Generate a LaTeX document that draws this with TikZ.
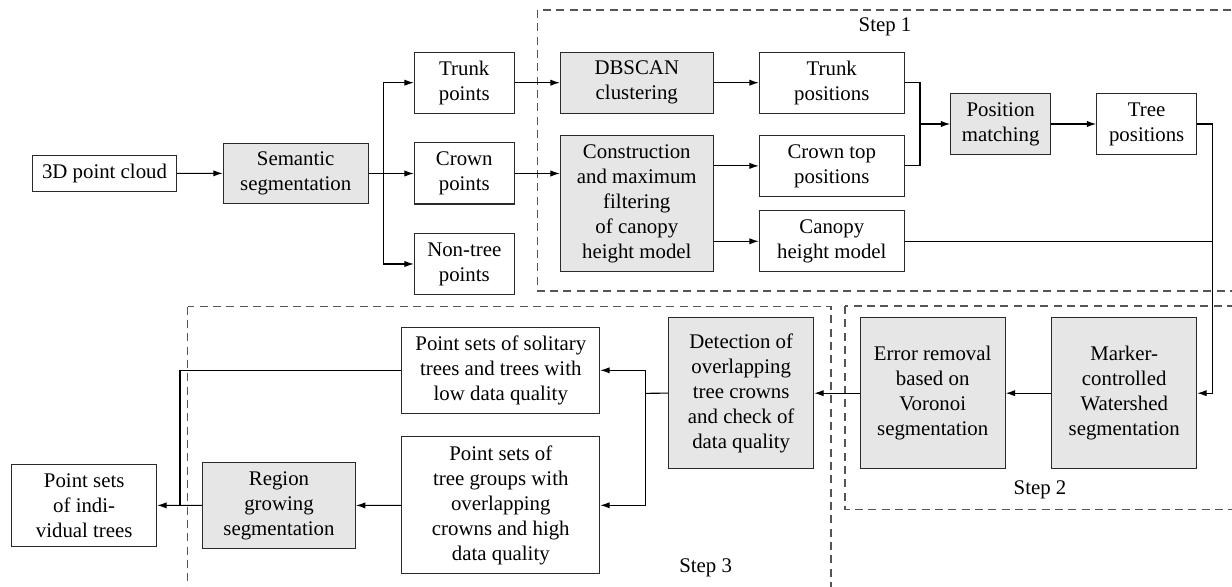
\documentclass[tikz,border=0pt]{standalone}
\usepackage{fontspec}
\setmainfont{Liberation Serif}
\usepackage{tikz}
\usetikzlibrary{arrows.meta}
\definecolor{boxfill}{HTML}{E6E6E6}
\definecolor{boxline}{HTML}{2A2A2A}
\definecolor{dashline}{HTML}{555555}
\tikzset{
  stepbox/.style={draw=boxline, line width=0.5pt, align=center, inner sep=0pt},
  procbox/.style={stepbox, fill=boxfill},
  conn/.style={line width=0.5pt, -{Latex[length=4.5pt,width=3pt]}},
  stage/.style={draw=dashline, line width=0.5pt, dash pattern=on 3.8pt off 2.6pt},
}

\begin{document}
\begin{tikzpicture}[x=0.48pt, y=-0.48pt]
\useasboundingbox (0,0) rectangle (1232,587);
% stages
\draw[stage] (537.7,10) rectangle (1250,291);
\draw[stage] (845,306) rectangle (1250,509.3);
\draw[stage] (187.7,306.7) rectangle (831,600);
\node (lbl1) at (885,26.7) {Step 1};
\node (lbl2) at (1040,490) {Step 2};
\node (lbl3) at (705.7,568.3) {Step 3};

% first row
\node[stepbox, minimum width=69.1pt, minimum height=17.3pt] (cloud) at (104.5,173.2) {3D point cloud};
\node[procbox, minimum width=69.6pt, minimum height=29pt] (sem) at (295.7,173.5) {Semantic\\segmentation};
\node[stepbox, minimum width=48pt, minimum height=29.3pt] (trunkpts) at (464.3,82.7) {Trunk\\points};
\node[stepbox, minimum width=48pt, minimum height=29.3pt] (crownpts) at (464.3,173.5) {Crown\\points};
\node[stepbox, minimum width=48pt, minimum height=29.3pt] (nontree) at (464.3,264) {Non-tree\\points};
\node[procbox, minimum width=73.4pt, minimum height=29.3pt] (dbscan) at (636.8,82.7) {DBSCAN\\clustering};
\node[procbox, minimum width=73.4pt, minimum height=65.3pt] (chm) at (636.8,203.7) {Construction\\and maximum\\filtering\\of canopy\\height model};
\node[stepbox, minimum width=69.6pt, minimum height=29.3pt] (trunkpos) at (831.8,82.7) {Trunk\\positions};
\node[stepbox, minimum width=69.6pt, minimum height=29.3pt] (crowntop) at (831.8,165.9) {Crown top\\positions};
\node[stepbox, minimum width=69.6pt, minimum height=29.3pt] (canopy) at (831.8,241.3) {Canopy\\height model};
\node[procbox, minimum width=48pt, minimum height=29.3pt] (posmatch) at (1000.7,124) {Position\\matching};
\node[stepbox, minimum width=48pt, minimum height=29pt] (treepos) at (1146.7,124) {Tree\\positions};

% second row
\node[procbox, minimum width=69.6pt, minimum height=72.5pt] (marker) at (1124.2,393.2) {Marker-\\controlled\\Watershed\\segmentation};
\node[procbox, minimum width=69.6pt, minimum height=72.5pt] (errrem) at (932.7,393.2) {Error removal\\based on\\Voronoi\\segmentation};
\node[procbox, minimum width=69.6pt, minimum height=72.5pt] (detect) at (741.2,393.2) {Detection of\\overlapping\\tree crowns\\and check of\\data quality};
\node[stepbox, minimum width=95pt, minimum height=41.3pt] (solitary) at (500.8,370.3) {Point sets of solitary\\trees and trees with\\low data quality};
\node[stepbox, minimum width=95pt, minimum height=65.6pt] (groups) at (500.8,505.3) {Point sets of\\tree groups with\\overlapping\\crowns and high\\data quality};
\node[procbox, minimum width=73.4pt, minimum height=41.3pt] (region) at (279,505.5) {Region\\growing\\segmentation};
\node[stepbox, minimum width=69.6pt, minimum height=39.4pt] (indiv) at (84.2,505.3) {Point sets\\of indi-\\vidual trees};

% junctions
\coordinate (semfork) at (383.3,173.5);
\coordinate (posjoin) at (920,124);
\coordinate (rside) at (1212.3,124);
\coordinate (detfork) at (645.7,393.3);
\coordinate (outjoin) at (180,505.3);

% connectors
\draw[conn] (cloud) -- (sem);
\draw[conn] (sem) -- (crownpts);
\draw[conn] (semfork) |- (trunkpts);
\draw[conn] (semfork) |- (nontree);
\draw[conn] (trunkpts) -- (dbscan);
\draw[conn] (crownpts.east) -- (crownpts.east -| chm.west);
\draw[conn] (dbscan) -- (trunkpos);
\draw[conn] (chm.east |- crowntop) -- (crowntop);
\draw[conn] (chm.east |- canopy) -- (canopy);
\draw[line width=0.5pt] (trunkpos.east) -| (posjoin);
\draw[line width=0.5pt] (crowntop.east) -| (posjoin);
\draw[conn] (posjoin) -- (posmatch);
\draw[conn] (posmatch) -- (treepos);
\draw[conn] (treepos.east) -- (rside) |- (marker.east);
\draw[line width=0.5pt] (canopy.east) -- (canopy.east -| rside);
\draw[conn] (marker) -- (errrem);
\draw[conn] (errrem) -- (detect);
\draw[line width=0.5pt] (detect.west) -- (detfork);
\draw[conn] (detfork) |- (solitary.east);
\draw[conn] (detfork) |- (groups.east);
\draw[conn] (groups) -- (region);
\draw[conn] (region) -- (indiv);
\draw[line width=0.5pt] (solitary.west) -| (outjoin);
\end{tikzpicture}
\end{document}
